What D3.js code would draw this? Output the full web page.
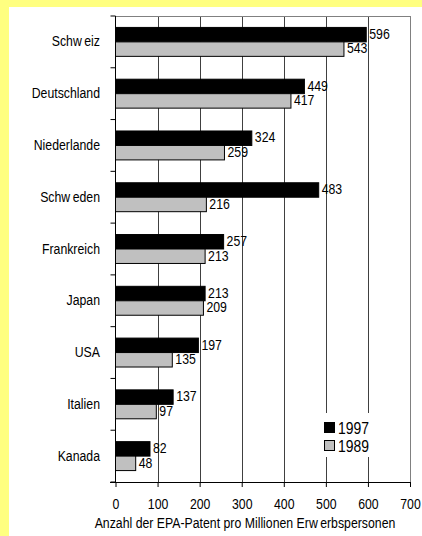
<!DOCTYPE html>
<html><head><meta charset="utf-8">
<script src="https://cdn.jsdelivr.net/npm/d3@7"></script>
<style>
html,body{margin:0;padding:0;background:#fff;}
text{font-family:"Liberation Sans",Arial,sans-serif;fill:#000;}
</style></head>
<body>
<svg id="chart" width="422" height="536"></svg>
<script>
const categories = ["Schweiz","Deutschland","Niederlande","Schweden","Frankreich","Japan","USA","Italien","Kanada"];
const seriesNames = ["1997","1989"];
const values1997 = [596,449,324,483,257,213,197,137,82];
const values1989 = [543,417,259,216,213,209,135,97,48];
const xTicks = [0,100,200,300,400,500,600,700];
const xTitle = "Anzahl der EPA-Patent pro Millionen Erwerbspersonen";
const colors = {"1997":"#000000","1989":"#c0c0c0"};

(function(){
const NARROW = 0.82;
const svg = d3.select("#chart");
// yellow frame
svg.append("rect").attr("x",0).attr("y",0).attr("width",422).attr("height",536).attr("fill","#ffff80");
svg.append("rect").attr("x",9).attr("y",7).attr("width",413).attr("height",529).attr("fill","#fff");

const pL = 115.5, pR = 410, pT = 16, pB = 482;
const x = d3.scaleLinear().domain([0,700]).range([pL,pR]);
const y = d3.scaleBand().domain(categories).range([pT,pB]).padding(0);
const y1 = d3.scaleBand().domain(seriesNames).range([0,y.step()]).paddingInner(0).paddingOuter(0.79);

const data = categories.map((c,i)=>({cat:c, vals:[{s:"1997",v:values1997[i]},{s:"1989",v:values1989[i]}]}));

function narrowText(parent, px, py, size, anchor){
  return parent.append("g").attr("transform",`translate(${px},${py}) scale(${NARROW},1)`)
    .append("text").attr("x",0).attr("y",0).attr("font-size",size).attr("text-anchor",anchor||"start");
}

// gridlines
svg.append("g").selectAll("line").data(xTicks.filter(t=>t>0&&t<700)).join("line")
  .attr("x1",d=>Math.round(x(d))+0.5).attr("x2",d=>Math.round(x(d))+0.5)
  .attr("y1",pT).attr("y2",pB).attr("stroke","#404040").attr("stroke-width",1);
// top & right border
svg.append("line").attr("x1",pL).attr("x2",pR+0.5).attr("y1",pT+0.5).attr("y2",pT+0.5).attr("stroke","#808080");
svg.append("line").attr("x1",pR+0.5).attr("x2",pR+0.5).attr("y1",pT).attr("y2",pB).attr("stroke","#808080");

// bars
const g = svg.append("g").selectAll("g").data(data).join("g").attr("transform",d=>`translate(0,${y(d.cat)})`);
g.selectAll("rect").data(d=>d.vals).join("rect")
  .attr("x",x(0)).attr("y",d=>y1(d.s)).attr("width",d=>x(d.v)-x(0)).attr("height",y1.bandwidth())
  .attr("fill",d=>colors[d.s]).attr("stroke","#000").attr("stroke-width",1);
g.each(function(d){
  const gg = d3.select(this);
  d.vals.forEach(v=>{
    narrowText(gg, x(v.v)+3, y1(v.s)+11.5, 15).text(v.v);
  });
});

// y axis
svg.append("line").attr("x1",pL).attr("x2",pL).attr("y1",pT).attr("y2",pB).attr("stroke","#000");
svg.append("g").selectAll("line").data(d3.range(categories.length+1)).join("line")
  .attr("x1",pL-5).attr("x2",pL).attr("y1",i=>pT+i*y.step()).attr("y2",i=>pT+i*y.step()).attr("stroke","#000");
function splitW(sel, word){
  const idx = word.indexOf("w");
  if(idx<0){ sel.text(word); return; }
  sel.append("tspan").text(word.slice(0,idx+1));
  sel.append("tspan").attr("dx",3).text(word.slice(idx+1));
}
const catG = svg.append("g");
categories.forEach(c=>{
  splitW(narrowText(catG, 100, y(c)+y.step()/2+4.5, 15, "end"), c);
});

// x axis
const xAxis = d3.axisBottom(x).tickValues(xTicks).tickSize(5).tickPadding(11);
const xg = svg.append("g").attr("transform",`translate(0,${pB})`).call(xAxis);
xg.select(".domain").remove();
xg.selectAll(".tick line").attr("stroke","#000");
xg.selectAll(".tick text").attr("font-size",15).attr("font-family",null).attr("transform",`scale(${NARROW},1)`);
svg.append("line").attr("x1",110).attr("x2",pR+0.5).attr("y1",pB+0.5).attr("y2",pB+0.5).attr("stroke","#000");

const title = narrowText(svg, 245, 527.5, 15, "middle");
const tw = xTitle.split("Erwerbs");
title.append("tspan").text(tw[0]+"Erw");
title.append("tspan").attr("dx",3).text("erbs"+tw[1]);

// legend
const lg = svg.append("g");
lg.append("rect").attr("x",320).attr("y",413).attr("width",56).attr("height",44).attr("fill","#fff");
seriesNames.forEach((s,i)=>{
  lg.append("rect").attr("x",324.5).attr("y",422.5+i*18).attr("width",10).attr("height",10)
    .attr("fill",colors[s]).attr("stroke","#000");
  narrowText(lg, 338, 433.5+i*18, 17).text(s);
});
})();
</script>
</body></html>
